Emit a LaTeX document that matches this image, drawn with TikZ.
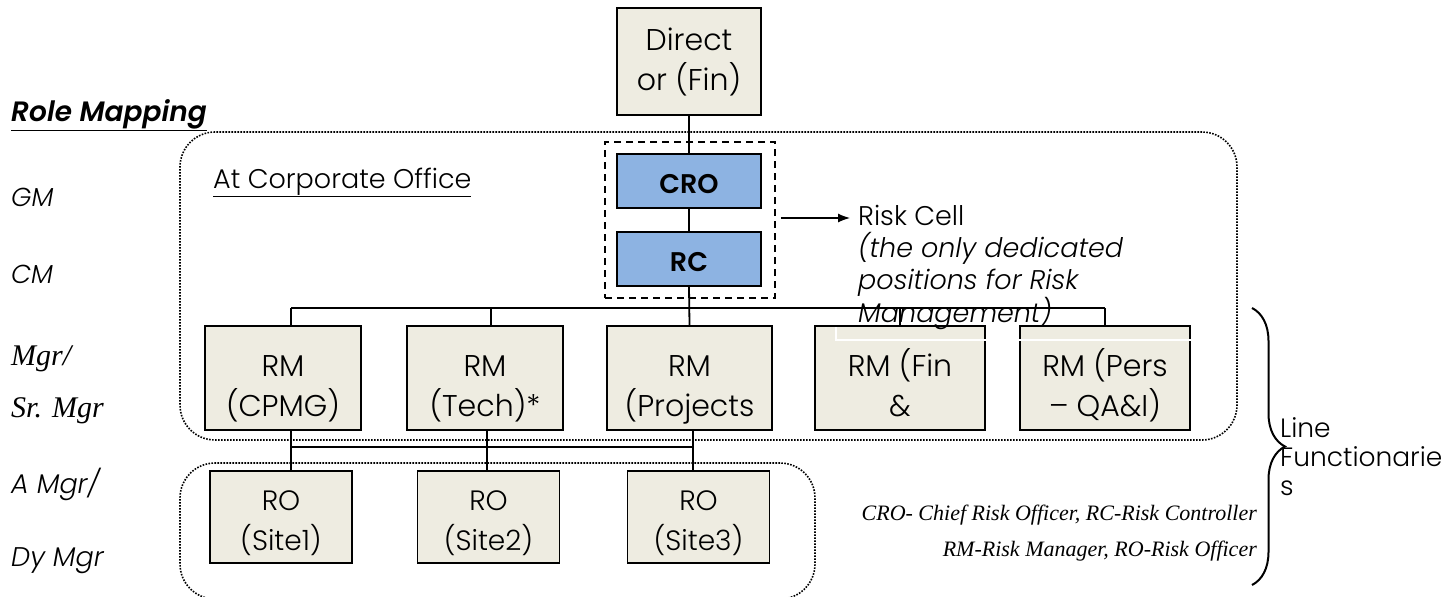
\documentclass[tikz,border=0pt]{standalone}
\usepackage{fontspec}
\setmainfont{Poppins Light}[BoldFont=Poppins SemiBold, ItalicFont=Poppins Light Italic, BoldItalicFont=Poppins SemiBold Italic]
\newfontfamily\tms{Liberation Serif}
\usetikzlibrary{arrows.meta,decorations.pathreplacing}
\definecolor{beige}{HTML}{EEECE1}
\definecolor{cellblue}{HTML}{8DB3E2}
\newcommand\fsz[2]{\fontsize{#1}{#2}\selectfont}
\newcommand\twoline[4]{\rule{0pt}{#1pt}#3\\#4\rule[-#2pt]{0pt}{#2pt}}
\tikzset{
  box/.style={draw=black, line width=1.8pt, fill=beige, inner sep=0pt, align=center},
  rmbox/.style={box, minimum height=104, font=\fsz{30}{40}},
  robox/.style={box, minimum width=142, minimum height=92, font=\fsz{28}{40}},
  bluebox/.style={draw=black, line width=1.8pt, fill=cellblue, inner sep=0pt,
     minimum width=144, minimum height=54, font=\fsz{27}{32}\bfseries},
  frame/.style={draw=black, dash pattern=on 1.6pt off 1.4pt, line width=1.6pt, rounded corners=35, inner sep=0pt},
  conn/.style={draw=black, line width=1.8pt},
  lbl/.style={anchor=base west, inner sep=0pt},
}
\begin{document}
\begin{tikzpicture}[x=1pt, y=-1pt]
\useasboundingbox (0,0) rectangle (1441,597);

% frames
\node[frame, minimum width=1057, minimum height=308] (corp) at (708.5,286) {};
\node[frame, minimum width=635, minimum height=136] (site) at (497.5,531) {};
\node[draw=black, dash pattern=on 7pt off 5pt, line width=1.8pt,
      minimum width=170, minimum height=156, inner sep=0pt] (cell) at (690,220) {};

% boxes
\node[box, minimum width=144, minimum height=107, font=\fsz{30}{40}] (dir) at (689,61.5)
  {\twoline{25}{8}{Direct}{or (Fin)}};
\node[bluebox] (cro) at (689,181) {\rule{0pt}{26pt}CRO};
\node[bluebox] (rc) at (689,259) {\rule{0pt}{26pt}RC};

\node[rmbox, minimum width=156] (cpmg) at (283,378) {\twoline{44}{8}{RM}{(CPMG)}};
\node[rmbox, minimum width=156] (tech) at (485,378) {\twoline{44}{8}{RM}{(Tech)*}};
\node[rmbox, minimum width=165] (proj) at (689.5,378) {\twoline{44}{8}{RM}{(Projects}};
\node[rmbox, minimum width=170] (fin) at (900,378) {\twoline{44}{8}{RM (Fin}{\&}};
\node[rmbox, minimum width=170] (pers) at (1105,378) {\twoline{44}{8}{RM (Pers}{-- QA\&I)}};

\node[robox] (ro1) at (281,517) {\twoline{34}{8}{RO}{(Site1)}};
\node[robox] (ro2) at (488.5,517) {\twoline{34}{8}{RO}{(Site2)}};
\node[robox] (ro3) at (698.5,517) {\twoline{34}{8}{RO}{(Site3)}};

% connectors
\coordinate (busL) at (291,308);
\coordinate (busT) at (491,308);
\coordinate (busF) at (900,308);
\coordinate (busR) at (1105,308);
\coordinate (lowL) at (291,447);
\coordinate (lowM) at (487,447);
\coordinate (lowR) at (693,447);
\coordinate (arrEnd) at (850,218);

\draw[conn] (dir.south) -- (cro.north);
\draw[conn] (cro.south) -- (rc.north);
\draw[conn] (rc.south) -- (proj.north);
\draw[conn] (busL) -- (busR);
\draw[conn] (busL) -- (busL |- cpmg.north);
\draw[conn] (busT) -- (busT |- tech.north);
\draw[conn] (busF) -- (fin.north);
\draw[conn] (busR) -- (pers.north);

\draw[conn] (lowL |- cpmg.south) -- (lowL |- ro1.north);
\draw[conn] (lowM |- tech.south) -- (lowM |- ro2.north);
\draw[conn] (lowR |- proj.south) -- (lowR |- ro3.north);
\draw[conn] (lowL) -- (lowR);

\draw[line width=1.2pt, -{Latex[length=12pt,width=9pt]}] (cell.east |- arrEnd) ++(5,0) -- (arrEnd);

% white edge of the text box
\draw[white, line width=1.2pt] (836,327) -- (836,340) -- (1192,340);

% texts
\node[lbl, font=\fsz{28}{30}\bfseries\itshape] (role) at (11,121) {\underline{Role Mapping}};
\node[lbl, font=\fsz{27}{32}] (corpt) at (213,188) {\underline{At Corporate Office}};
\node[lbl, font=\fsz{26}{30}\itshape] (gm) at (11,206) {GM};
\node[lbl, font=\fsz{26}{30}\itshape] (cm) at (11,283) {CM};
\node[lbl, font=\fsz{30}{30}\tms\itshape] (mgr) at (11,365) {Mgr/};
\node[lbl, font=\fsz{30}{30}\tms\itshape] (srmgr) at (11,417) {Sr. Mgr};
\node[lbl, font=\fsz{27}{30}\itshape] (amgr) at (11,493) {A Mgr/};
\node[lbl, font=\fsz{27}{30}\itshape] (dymgr) at (11,566) {Dy Mgr};

\node[anchor=north west, inner sep=0pt, align=left, font=\fsz{27}{32}] (cellt) at (858,201)
  {\rule{0pt}{24pt}Risk Cell\\\textit{(the only dedicated}\\\textit{positions for Risk}\\\textit{Management)}};

\node[anchor=base east, inner sep=0pt, font=\fsz{22}{22}\tms\itshape] (leg1) at (1257,520)
  {CRO- Chief Risk Officer, RC-Risk Controller};
\node[anchor=base east, inner sep=0pt, font=\fsz{22}{22}\tms\itshape] (leg2) at (1257,556)
  {RM-Risk Manager, RO-Risk Officer};

\coordinate (brTop) at (1252,308);
\coordinate (brBot) at (1252,585);
\draw[line width=2pt, decorate, decoration={brace, amplitude=33pt}] (brTop) -- (brBot);
\node[anchor=north west, inner sep=0pt, align=left, font=\fsz{26.5}{29}] (linef) at (1280,415)
  {\rule{0pt}{22pt}Line\\Functionarie\\s};
\end{tikzpicture}
\end{document}
